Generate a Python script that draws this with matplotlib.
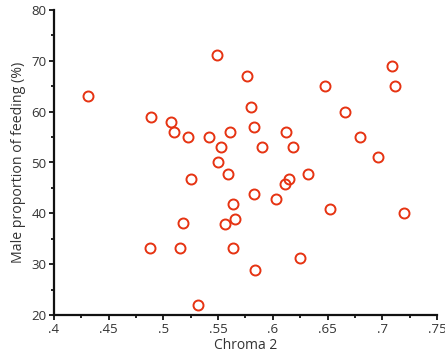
import matplotlib
matplotlib.use("Agg")
import matplotlib.pyplot as plt
from matplotlib.ticker import MultipleLocator, FuncFormatter

chroma = [0.431, 0.489, 0.507, 0.510, 0.5225, 0.542, 0.549, 0.553, 0.550, 0.561,
          0.559, 0.5255, 0.576, 0.580, 0.583, 0.590, 0.612, 0.6185, 0.6145, 0.611,
          0.6325, 0.583, 0.603, 0.5636, 0.5654, 0.556, 0.518, 0.4875, 0.515, 0.564,
          0.584, 0.625, 0.532, 0.648, 0.666, 0.680, 0.6965, 0.709, 0.712, 0.652, 0.720]
male_feeding = [63, 59, 58, 56, 55, 55, 71.2, 53, 50, 56,
                47.8, 46.8, 67, 61, 57, 53, 56, 53, 46.8, 45.8,
                47.8, 43.8, 42.9, 41.9, 38.9, 37.9, 38, 33.1, 33.1, 33.1,
                28.9, 31.2, 22, 65, 60, 55, 51, 68.9, 65, 40.9, 40]

x_ticks = [0.4, 0.45, 0.5, 0.55, 0.6, 0.65, 0.7, 0.75]
y_ticks = [20, 30, 40, 50, 60, 70, 80]

plt.rcParams['font.family'] = ['Open Sans', 'DejaVu Sans']

fig = plt.figure(figsize=(4.45, 3.6), dpi=100)
ax = fig.add_axes([54/445, 45/360, 383/445, 305/360])

ax.plot(chroma, male_feeding, linestyle='none', marker='o', markersize=7.2,
        markerfacecolor='none', markeredgecolor='#e63312', markeredgewidth=1.4,
        clip_on=False)

ax.set_xlim(0.4, 0.75)
ax.set_ylim(20, 80)
ax.set_xticks(x_ticks)
ax.set_yticks(y_ticks)
ax.xaxis.set_minor_locator(MultipleLocator(0.025))
ax.yaxis.set_minor_locator(MultipleLocator(5))
ax.xaxis.set_major_formatter(FuncFormatter(lambda v, p: ('%.2f' % v).rstrip('0').lstrip('0')))

for s in ['top', 'right']:
    ax.spines[s].set_visible(False)
for s in ['left', 'bottom']:
    ax.spines[s].set_linewidth(1.6)
    ax.spines[s].set_color('#111111')

ax.tick_params(which='major', direction='out', length=3.5, width=1.3, colors='#111111',
               labelsize=9.5, labelcolor='#333333', pad=2)
ax.tick_params(which='minor', direction='out', length=2.5, width=1.3, colors='#111111')

ax.set_xlabel('Chroma 2', fontsize=10, color='#333333', labelpad=2)
ax.set_ylabel('Male proportion of feeding (%)', fontsize=10.2, color='#333333', labelpad=4)

fig.savefig('out.png', dpi=100)
